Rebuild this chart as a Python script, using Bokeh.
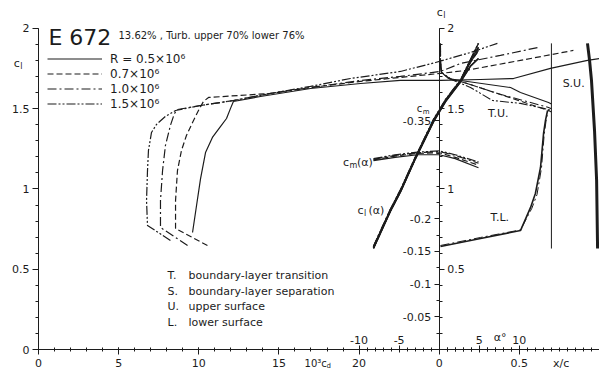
from bokeh.plotting import figure
from bokeh.models import (Range1d, LinearAxis, FixedTicker, Label, Legend, LegendItem,
                          NumeralTickFormatter)
from bokeh.embed import file_html
from bokeh.resources import INLINE

INK = "#1c1c1c"
FONT = "DejaVu Sans"

# ---------------- data ----------------
re_labels = ["R = 0.5×10⁶", "0.7×10⁶", "1.0×10⁶", "1.5×10⁶"]
re_dash = ["solid", "6 3", "9 3 2 3", "9 2 2 2 2 2"]

# drag polars (10^3 cd, cl)
polar_cd_05 = [9.61, 9.86, 10.11, 10.42, 10.85, 11.35, 11.73, 11.98, 12.16, 13.85, 16.97, 20.09, 22.58, 25.08, 27.57, 29.63, 31.94, 34.25, 35.0]
polar_cl_05 = [0.729, 0.897, 1.065, 1.227, 1.321, 1.389, 1.439, 1.502, 1.545, 1.576, 1.626, 1.657, 1.676, 1.676, 1.682, 1.688, 1.751, 1.801, 1.813]
polar_cd_07 = [10.54, 8.55, 8.55, 8.67, 8.92, 9.23, 9.61, 9.98, 10.29, 10.61, 12.60, 14.47, 16.97, 20.09, 22.58, 25.08, 26.64, 30.07, 33.37]
polar_cl_07 = [0.648, 0.754, 0.928, 1.115, 1.240, 1.333, 1.414, 1.489, 1.545, 1.570, 1.583, 1.595, 1.632, 1.670, 1.695, 1.720, 1.738, 1.801, 1.863]
polar_cd_10 = [9.30, 7.61, 7.61, 7.74, 7.92, 8.23, 8.48, 8.67, 10.11, 12.16, 14.47, 16.97, 20.09, 22.58, 25.08, 26.33, 28.82, 31.19]
polar_cl_10 = [0.648, 0.760, 0.928, 1.115, 1.271, 1.396, 1.470, 1.495, 1.520, 1.551, 1.595, 1.632, 1.676, 1.701, 1.732, 1.782, 1.832, 1.882]
polar_cd_15 = [8.23, 6.80, 6.74, 6.80, 6.86, 7.05, 7.36, 7.92, 8.55, 10.11, 12.16, 14.47, 16.97, 19.46, 22.58, 24.77, 26.95, 28.63]
polar_cl_15 = [0.679, 0.773, 0.928, 1.115, 1.240, 1.352, 1.402, 1.452, 1.489, 1.520, 1.551, 1.595, 1.639, 1.688, 1.732, 1.788, 1.850, 1.907]

# lift curves (alpha deg, cl)
lift_alpha = [-8.2, -6.1, -4.8, -3.0, -0.7, 0.8, 2.7, 3.9, 4.9]
lift_cl_05 = [0.630, 0.860, 0.985, 1.185, 1.420, 1.545, 1.670, 1.765, 1.813]
lift_cl_07 = [0.634, 0.864, 0.989, 1.188, 1.425, 1.550, 1.674, 1.790, 1.863]
lift_cl_10 = [0.638, 0.868, 0.993, 1.192, 1.429, 1.553, 1.678, 1.800, 1.882]
lift_cl_15 = [0.642, 0.872, 0.997, 1.196, 1.433, 1.557, 1.682, 1.805, 1.907]

# moment curves (alpha deg, cm)
cm_alpha = [-8.2, -5.5, -2.7, 0.0, 2.0, 4.9]
cm_05 = [-0.289, -0.294, -0.298, -0.298, -0.292, -0.278]
cm_07 = [-0.290, -0.296, -0.300, -0.301, -0.294, -0.282]
cm_10 = [-0.291, -0.297, -0.301, -0.303, -0.297, -0.285]
cm_15 = [-0.292, -0.298, -0.302, -0.304, -0.298, -0.287]

# upper-surface transition (x/c, cl)
tu_xc_05 = [0.008, 0.008, 0.014, 0.058, 0.133, 0.445, 0.507, 0.682, 0.70]
tu_cl_05 = [1.813, 1.760, 1.726, 1.688, 1.676, 1.632, 1.601, 1.539, 1.530]
tu_xc_07 = [0.008, 0.008, 0.014, 0.070, 0.176, 0.682, 0.70]
tu_cl_07 = [1.863, 1.800, 1.726, 1.685, 1.657, 1.489, 1.480]
tu_xc_10 = [0.008, 0.008, 0.014, 0.065, 0.152, 0.364, 0.682, 0.70]
tu_cl_10 = [1.882, 1.800, 1.726, 1.686, 1.664, 1.595, 1.508, 1.500]
tu_xc_15 = [0.008, 0.008, 0.014, 0.080, 0.195, 0.333, 0.507, 0.651, 0.70]
tu_cl_15 = [1.907, 1.800, 1.726, 1.680, 1.632, 1.551, 1.533, 1.502, 1.490]

# lower-surface transition (x/c, cl)
tl_xc_a = [0.008, 0.258, 0.507, 0.570, 0.600, 0.632, 0.651, 0.663, 0.676]
tl_cl_a = [0.642, 0.692, 0.741, 0.885, 0.972, 1.134, 1.346, 1.427, 1.489]
tl_xc_b = [0.008, 0.258, 0.507, 0.578, 0.610, 0.638, 0.655, 0.666, 0.678]
tl_cl_b = [0.648, 0.698, 0.745, 0.880, 0.965, 1.130, 1.340, 1.420, 1.485]

# turbulator line and upper-surface separation (x/c, cl)
turb_xc = [0.70, 0.70]
turb_cl = [0.629, 1.907]
su_xc = [0.925, 0.938, 0.950, 0.969, 0.982, 0.988]
su_cl = [1.907, 1.801, 1.676, 1.364, 1.053, 0.629]

notes_key = ["T.", "S.", "U.", "L."]
notes_text = ["boundary-layer transition", "boundary-layer separation", "upper surface", "lower surface"]

cd_ticks = [0, 5, 10, 15, 20, 25, 30]
alpha_ticks = [-10, -5, 5, 10]
cl_ticks = [0, 0.5, 1, 1.5, 2]
cm_ticks = [-0.05, -0.1, -0.15, -0.2, -0.35]

# ---------------- figure ----------------
p = figure(width=599, height=376, output_backend="svg", toolbar_location=None,
           x_range=Range1d(-2.371, 35.0), y_range=Range1d(-0.168, 2.174),
           x_axis_type=None, y_axis_type=None,
           min_border_left=0, min_border_right=0, min_border_top=0, min_border_bottom=0)
p.extra_x_ranges = {"alpha": Range1d(-54.74, 20.0), "xc": Range1d(-2.7371, 1.0)}
p.extra_y_ranges = {"cm": Range1d(0.0413, -0.534)}
p.outline_line_color = None
p.background_fill_color = "white"
p.border_fill_color = "white"


def style_axis(ax, tin, tout, mtin, mtout, standoff=3, size="11px"):
    ax.axis_line_color = INK
    ax.major_tick_line_color = INK
    ax.minor_tick_line_color = INK
    ax.major_tick_in = tin
    ax.major_tick_out = tout
    ax.minor_tick_in = mtin
    ax.minor_tick_out = mtout
    ax.major_label_standoff = standoff
    ax.major_label_text_font = FONT
    ax.major_label_text_font_size = size
    ax.major_label_text_color = INK


left = LinearAxis(fixed_location=0,
                  ticker=FixedTicker(ticks=cl_ticks, minor_ticks=[k / 10 for k in range(21)]),
                  formatter=NumeralTickFormatter(format="0.[0]"), bounds=(0, 2))
style_axis(left, 0, 6, 0, 3)
p.add_layout(left, "left")

bottom = LinearAxis(fixed_location=0,
                    ticker=FixedTicker(ticks=cd_ticks,
                                       minor_ticks=list(range(0, 21)) + [25 + k / 2 for k in range(21)]),
                    major_label_overrides={25: "0", 30: "0.5"}, bounds=(0, 35))
style_axis(bottom, 2, 5, 2, 2, standoff=4)
p.add_layout(bottom, "below")

alpha_ax = LinearAxis(x_range_name="alpha", fixed_location=0,
                      ticker=FixedTicker(ticks=alpha_ticks, minor_ticks=list(range(-10, 11))),
                      major_label_overrides={-10: "-10", -5: "-5"},
                      bounds=(-10, 20))
style_axis(alpha_ax, 3, 4, 2, 2, standoff=2)
p.add_layout(alpha_ax, "above")

cm_ax = LinearAxis(y_range_name="cm", fixed_location=25,
                   ticker=FixedTicker(ticks=cm_ticks, minor_ticks=[-0.025 * k for k in range(1, 15)]),
                   formatter=NumeralTickFormatter(format="0.[00]"), bounds=(-0.35, 0))
style_axis(cm_ax, 0, 5, 0, 3)
p.add_layout(cm_ax, "left")

clr_ax = LinearAxis(fixed_location=25,
                    ticker=FixedTicker(ticks=cl_ticks[1:], minor_ticks=[k / 10 for k in range(21)]),
                    formatter=NumeralTickFormatter(format="0.[0]"), bounds=(0, 2))
style_axis(clr_ax, 0, 5, 0, 3)
p.add_layout(clr_ax, "right")

# ---------------- curves ----------------
polars = [(polar_cd_05, polar_cl_05), (polar_cd_07, polar_cl_07),
          (polar_cd_10, polar_cl_10), (polar_cd_15, polar_cl_15)]
lifts = [lift_cl_05, lift_cl_07, lift_cl_10, lift_cl_15]
cms = [cm_05, cm_07, cm_10, cm_15]
tus = [(tu_xc_05, tu_cl_05), (tu_xc_07, tu_cl_07), (tu_xc_10, tu_cl_10), (tu_xc_15, tu_cl_15)]

polar_r = []
for (cd, cl), dash in zip(polars, re_dash):
    polar_r.append(p.line(cd, cl, line_color=INK, line_width=1.2, line_dash=dash))
for cl, dash in zip(lifts, re_dash):
    p.line(lift_alpha, cl, x_range_name="alpha", line_color=INK, line_width=1.6, line_dash=dash)
    p.line(lift_alpha, cl, x_range_name="alpha", line_color=INK, line_width=1.2)
for cm, dash in zip(cms, re_dash):
    p.line(cm_alpha, cm, x_range_name="alpha", y_range_name="cm", line_color=INK, line_width=1.2, line_dash=dash)
for (xc, cl), dash in zip(tus, re_dash):
    p.line(xc, cl, x_range_name="xc", line_color=INK, line_width=1.1, line_dash=dash)
p.line(tl_xc_a, tl_cl_a, x_range_name="xc", line_color=INK, line_width=1.6)
p.line(tl_xc_b, tl_cl_b, x_range_name="xc", line_color=INK, line_width=1.0, line_dash="9 3 2 3")
p.line(turb_xc, turb_cl, x_range_name="xc", line_color=INK, line_width=1.0)
p.line(su_xc, su_cl, x_range_name="xc", line_color=INK, line_width=3.0)

legend = Legend(items=[LegendItem(label=lab, renderers=[r]) for lab, r in zip(re_labels, polar_r)],
                location=(47, 265), glyph_width=55, glyph_height=15, label_height=15,
                spacing=0, padding=0, margin=0, label_standoff=8,
                background_fill_alpha=0, border_line_alpha=0,
                label_text_font=FONT, label_text_font_size="12px", label_text_color=INK)
p.add_layout(legend)


# ---------------- texts ----------------
def txt(x, y, s, size="11px", align="left", baseline="middle"):
    p.add_layout(Label(x=x, y=y, text=s, text_font=FONT, text_font_size=size, text_color=INK,
                       text_align=align, text_baseline=baseline))


def subtxt(x, y, base, sub, tail="", size=11, sub_dx=6.5, tail_dx=None):
    p.add_layout(Label(x=x, y=y, text=base, text_font=FONT, text_font_size=f"{size}px",
                       text_color=INK, text_baseline="middle"))
    p.add_layout(Label(x=x, y=y, x_offset=sub_dx, y_offset=-3, text=sub, text_font=FONT,
                       text_font_size=f"{size - 3}px", text_color=INK, text_baseline="middle"))
    if tail:
        p.add_layout(Label(x=x, y=y, x_offset=tail_dx, text=tail, text_font=FONT,
                           text_font_size=f"{size}px", text_color=INK, text_baseline="middle"))


txt(0.62, 1.944, "E 672", size="22px", baseline="alphabetic")
txt(4.99, 1.956, "13.62% , Turb. upper 70% lower 76%", size="10px", baseline="alphabetic")

subtxt(-1.55, 1.78, "c", "l")
subtxt(24.85, 2.10, "c", "l")
subtxt(23.6, 1.50, "c", "m", size=10, sub_dx=6)
subtxt(19.0, 1.165, "c", "m", "(α)", size=11, sub_dx=6.5, tail_dx=14)
subtxt(19.9, 0.866, "c", "l", "(α)", size=11, sub_dx=6.5, tail_dx=11)
subtxt(16.6, -0.087, "10³c", "d", size=10, sub_dx=22)
txt(32.1, -0.087, "x/c", size="11px")
txt(28.4, 0.075, "α°", size="11px")
txt(28.05, 1.47, "T.U.", size="11px")
txt(28.2, 0.822, "T.L.", size="11px")
txt(32.7, 1.657, "S.U.", size="11px")

for i, (k, t) in enumerate(zip(notes_key, notes_text)):
    txt(8.05, 0.461 - i * 0.098, k, size="11px")
    txt(9.36, 0.461 - i * 0.098, t, size="11px")

open("out.html", "w").write(file_html(p, INLINE))
